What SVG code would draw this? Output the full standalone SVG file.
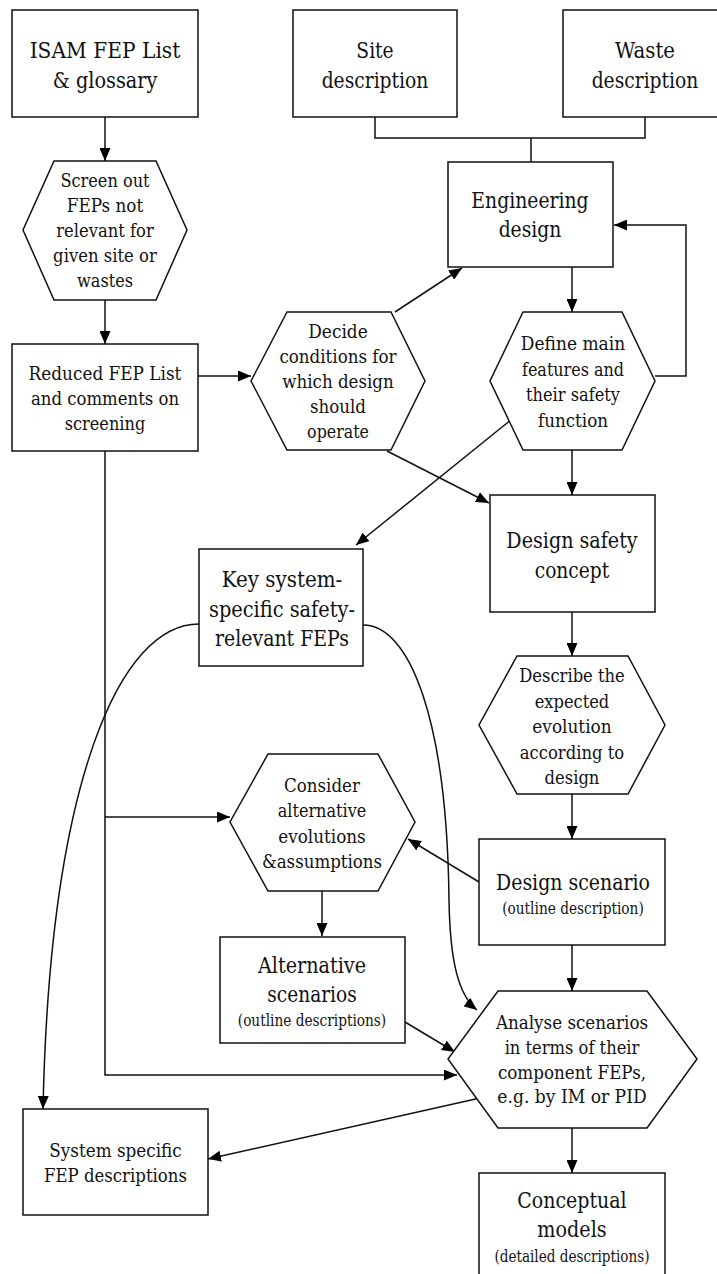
<svg xmlns="http://www.w3.org/2000/svg" width="717" height="1274" viewBox="0 0 717 1274">
<style>
.box{fill:#fff;stroke:#111;stroke-width:1.5}
text{font-family:'DejaVu Serif','Liberation Serif',serif;fill:#111;text-anchor:middle}
.l{font-size:21.8px}.m{font-size:19.1px}.s{font-size:15.9px}
.c{fill:none;stroke:#111;stroke-width:1.5}
.a{marker-end:url(#ah)}
</style>
<defs>
<marker id="ah" markerUnits="userSpaceOnUse" markerWidth="13" markerHeight="11" refX="13" refY="5.5" orient="auto">
<path d="M0,0 L13,5.5 L0,11 z" fill="#000"/>
</marker>
</defs>
<rect width="717" height="1274" fill="#fff"/>
<g id="connectors">
<path class="c a" d="M105,117 V161"/>
<path class="c a" d="M105,300 V344"/>
<path class="c a" d="M198,376 H251"/>
<path class="c" d="M375,117 V138 H645 V117 M531,138 V162"/>
<path class="c a" d="M395,312 L462,268"/>
<path class="c a" d="M572,267 V312"/>
<path class="c a" d="M655,376 H686 V225 H614"/>
<path class="c a" d="M572,450 V495"/>
<path class="c a" d="M387,451 L489,503"/>
<path class="c a" d="M512,419 L356,545"/>
<path class="c a" d="M572,612 V656"/>
<path class="c a" d="M572,794 V839"/>
<path class="c a" d="M479,882 L408,839"/>
<path class="c a" d="M105,451 V1075 H457"/>
<path class="c a" d="M105,817 H230"/>
<path class="c a" d="M322,891 V936"/>
<path class="c a" d="M405,1022 L455,1052"/>
<path class="c a" d="M572,945 V991"/>
<path class="c a" d="M363,625 C410,625 447,720 449,900 C450,960 458,995 477,1010"/>
<path class="c a" d="M199,624 C120,624 50,780 43,1109"/>
<path class="c a" d="M480,1098 L208,1159"/>
<path class="c a" d="M572,1128 V1173"/>
</g>
<g id="isam">
<rect class="box" x="12" y="10" width="186" height="107"/>
<text class="l" x="105" y="58" textLength="150.7" lengthAdjust="spacingAndGlyphs">ISAM FEP List</text>
<text class="l" x="105" y="88" textLength="104.7" lengthAdjust="spacingAndGlyphs">&amp; glossary</text>
</g>
<g id="site">
<rect class="box" x="293" y="10" width="164" height="107"/>
<text class="l" x="375" y="58" textLength="37.3" lengthAdjust="spacingAndGlyphs">Site</text>
<text class="l" x="375" y="88" textLength="106.7" lengthAdjust="spacingAndGlyphs">description</text>
</g>
<g id="waste">
<rect class="box" x="563" y="10" width="170" height="107"/>
<text class="l" x="645" y="58" textLength="60" lengthAdjust="spacingAndGlyphs">Waste</text>
<text class="l" x="645" y="88" textLength="106.7" lengthAdjust="spacingAndGlyphs">description</text>
</g>
<g id="screen">
<polygon class="box" points="54,161 156,161 187,230 156,300 54,300 23,230"/>
<text class="m" x="105" y="187" textLength="89.2" lengthAdjust="spacingAndGlyphs">Screen out</text>
<text class="m" x="105" y="212" textLength="76.4" lengthAdjust="spacingAndGlyphs">FEPs not</text>
<text class="m" x="105" y="237" textLength="97.4" lengthAdjust="spacingAndGlyphs">relevant for</text>
<text class="m" x="105" y="262" textLength="103.8" lengthAdjust="spacingAndGlyphs">given site or</text>
<text class="m" x="105" y="287" textLength="56" lengthAdjust="spacingAndGlyphs">wastes</text>
</g>
<g id="engineering">
<rect class="box" x="448" y="162" width="165" height="105"/>
<text class="l" x="530" y="208" textLength="117.3" lengthAdjust="spacingAndGlyphs">Engineering</text>
<text class="l" x="530" y="237" textLength="62.7" lengthAdjust="spacingAndGlyphs">design</text>
</g>
<g id="reduced">
<rect class="box" x="12" y="344" width="186" height="107"/>
<text class="m" x="105" y="380" textLength="152.8" lengthAdjust="spacingAndGlyphs">Reduced FEP List</text>
<text class="m" x="105" y="404.5" textLength="148.2" lengthAdjust="spacingAndGlyphs">and comments on</text>
<text class="m" x="105" y="429.5" textLength="80.5" lengthAdjust="spacingAndGlyphs">screening</text>
</g>
<g id="decide">
<polygon class="box" points="287,312 391,312 425,381 391,450 287,450 251,381"/>
<text class="m" x="338" y="338" textLength="59.5" lengthAdjust="spacingAndGlyphs">Decide</text>
<text class="m" x="338" y="363" textLength="117.2" lengthAdjust="spacingAndGlyphs">conditions for</text>
<text class="m" x="338" y="388" textLength="111.4" lengthAdjust="spacingAndGlyphs">which design</text>
<text class="m" x="338" y="413" textLength="56" lengthAdjust="spacingAndGlyphs">should</text>
<text class="m" x="338" y="438" textLength="61.8" lengthAdjust="spacingAndGlyphs">operate</text>
</g>
<g id="define">
<polygon class="box" points="523,312 622,312 655,381 622,450 523,450 490,381"/>
<text class="m" x="573" y="350" textLength="104.4" lengthAdjust="spacingAndGlyphs">Define main</text>
<text class="m" x="573" y="375.5" textLength="102" lengthAdjust="spacingAndGlyphs">features and</text>
<text class="m" x="573" y="401" textLength="93.9" lengthAdjust="spacingAndGlyphs">their safety</text>
<text class="m" x="573" y="426.5" textLength="70" lengthAdjust="spacingAndGlyphs">function</text>
</g>
<g id="dsc">
<rect class="box" x="490" y="495" width="165" height="117"/>
<text class="l" x="572" y="548" textLength="131.3" lengthAdjust="spacingAndGlyphs">Design safety</text>
<text class="l" x="572" y="577.5" textLength="74.6" lengthAdjust="spacingAndGlyphs">concept</text>
</g>
<g id="key">
<rect class="box" x="199" y="549" width="164" height="117"/>
<text class="l" x="282" y="587" textLength="120.6" lengthAdjust="spacingAndGlyphs">Key system-</text>
<text class="l" x="282" y="616.5" textLength="145.9" lengthAdjust="spacingAndGlyphs">specific safety-</text>
<text class="l" x="282" y="646" textLength="134" lengthAdjust="spacingAndGlyphs">relevant FEPs</text>
</g>
<g id="describe">
<polygon class="box" points="517,656 628,656 665,725 628,794 517,794 479,725"/>
<text class="m" x="572" y="682" textLength="105.5" lengthAdjust="spacingAndGlyphs">Describe the</text>
<text class="m" x="572" y="707.5" textLength="74.6" lengthAdjust="spacingAndGlyphs">expected</text>
<text class="m" x="572" y="733" textLength="79.3" lengthAdjust="spacingAndGlyphs">evolution</text>
<text class="m" x="572" y="758.5" textLength="104.4" lengthAdjust="spacingAndGlyphs">according to</text>
<text class="m" x="572" y="784" textLength="54.8" lengthAdjust="spacingAndGlyphs">design</text>
</g>
<g id="consider">
<polygon class="box" points="268,754 378,754 415,822 378,891 268,891 230,822"/>
<text class="m" x="322" y="792" textLength="75.8" lengthAdjust="spacingAndGlyphs">Consider</text>
<text class="m" x="322" y="817" textLength="88.6" lengthAdjust="spacingAndGlyphs">alternative</text>
<text class="m" x="322" y="842.5" textLength="87.5" lengthAdjust="spacingAndGlyphs">evolutions</text>
<text class="m" x="322" y="868" textLength="120.2" lengthAdjust="spacingAndGlyphs">&amp;assumptions</text>
</g>
<g id="design-scenario">
<rect class="box" x="479" y="839" width="186" height="106"/>
<text class="l" x="573" y="890" textLength="154" lengthAdjust="spacingAndGlyphs">Design scenario</text>
<text class="s" x="573" y="914" textLength="141.6" lengthAdjust="spacingAndGlyphs">(outline description)</text>
</g>
<g id="alternative">
<rect class="box" x="220" y="937" width="185" height="106"/>
<text class="l" x="312" y="973" textLength="108" lengthAdjust="spacingAndGlyphs">Alternative</text>
<text class="l" x="312" y="1002" textLength="89.3" lengthAdjust="spacingAndGlyphs">scenarios</text>
<text class="s" x="312" y="1026" textLength="148.4" lengthAdjust="spacingAndGlyphs">(outline descriptions)</text>
</g>
<g id="analyse">
<polygon class="box" points="498,991 647,991 697,1059 647,1128 498,1128 448,1059"/>
<text class="m" x="572" y="1028.5" textLength="152.2" lengthAdjust="spacingAndGlyphs">Analyse scenarios</text>
<text class="m" x="572" y="1053.5" textLength="134.7" lengthAdjust="spacingAndGlyphs">in terms of their</text>
<text class="m" x="572" y="1078.5" textLength="148.2" lengthAdjust="spacingAndGlyphs">component FEPs,</text>
<text class="m" x="572" y="1103" textLength="149.3" lengthAdjust="spacingAndGlyphs">e.g. by IM or PID</text>
</g>
<g id="system">
<rect class="box" x="23" y="1109" width="185" height="106"/>
<text class="m" x="115.5" y="1157" textLength="132.4" lengthAdjust="spacingAndGlyphs">System specific</text>
<text class="m" x="115.5" y="1182" textLength="142.9" lengthAdjust="spacingAndGlyphs">FEP descriptions</text>
</g>
<g id="conceptual">
<rect class="box" x="479" y="1173" width="186" height="120"/>
<text class="l" x="572" y="1208" textLength="109.3" lengthAdjust="spacingAndGlyphs">Conceptual</text>
<text class="l" x="572" y="1237" textLength="69.3" lengthAdjust="spacingAndGlyphs">models</text>
<text class="s" x="572" y="1262" textLength="155.1" lengthAdjust="spacingAndGlyphs">(detailed descriptions)</text>
</g>
</svg>
